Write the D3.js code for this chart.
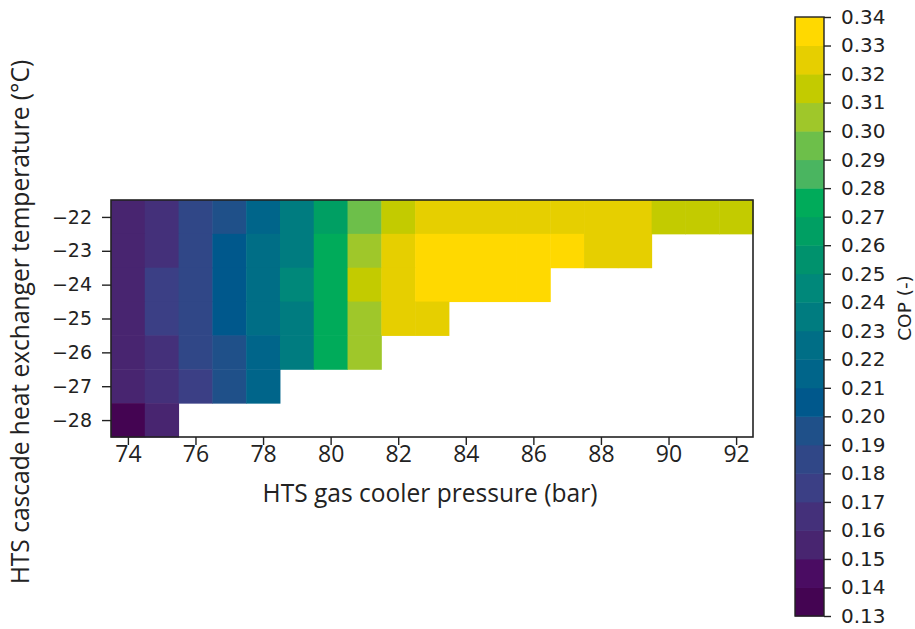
<!DOCTYPE html>
<html><head><meta charset="utf-8">
<script src="https://cdn.jsdelivr.net/npm/d3@7"></script>
<style>body{margin:0;background:#fff;} svg{display:block;}</style>
</head><body>
<svg id="c" width="915" height="629"></svg>
<script>
const pressures = [74,75,76,77,78,79,80,81,82,83,84,85,86,87,88,89,90,91,92];
const temperatures = [-22,-23,-24,-25,-26,-27,-28];
const copRow22 = [0.152,0.165,0.185,0.195,0.212,0.235,0.265,0.295,0.315,0.325,0.326,0.326,0.326,0.325,0.324,0.322,0.318,0.316,0.313];
const copRow23 = [0.152,0.165,0.185,0.205,0.222,0.235,0.275,0.305,0.325,0.333,0.334,0.335,0.334,0.332,0.328,0.325,null,null,null];
const copRow24 = [0.152,0.175,0.185,0.205,0.222,0.245,0.275,0.315,0.325,0.331,0.332,0.332,0.331,null,null,null,null,null,null];
const copRow25 = [0.152,0.175,0.185,0.205,0.222,0.236,0.275,0.305,0.324,0.327,null,null,null,null,null,null,null,null,null];
const copRow26 = [0.152,0.165,0.185,0.195,0.212,0.236,0.275,0.305,null,null,null,null,null,null,null,null,null,null,null];
const copRow27 = [0.152,0.165,0.175,0.195,0.212,null,null,null,null,null,null,null,null,null,null,null,null,null,null];
const copRow28 = [0.137,0.158,null,null,null,null,null,null,null,null,null,null,null,null,null,null,null,null,null];
const copRows = [copRow22,copRow23,copRow24,copRow25,copRow26,copRow27,copRow28];
const xTicks = [74,76,78,80,82,84,86,88,90,92];
const cbarTicks = [0.13,0.14,0.15,0.16,0.17,0.18,0.19,0.20,0.21,0.22,0.23,0.24,0.25,0.26,0.27,0.28,0.29,0.30,0.31,0.32,0.33,0.34];
const palette = ["#440452","#4a0c62","#482570","#44307a","#3b3f85","#304787","#1f5089","#00588c","#00658a","#006e86","#007c80","#00887a","#00926d","#009f63","#00ab5a","#4ab560","#6dbf4a","#9fc72a","#c3cb00","#e6cf00","#ffd900"];

const svg = d3.select("#c");
const L=111, R=753, T=200, B=437;
const x = d3.scaleLinear().domain([73.5,92.5]).range([L,R]);
const y = d3.scaleLinear().domain([-21.5,-28.5]).range([T,B]);
const color = d3.scaleThreshold().domain(cbarTicks.slice(1,-1)).range(palette);

function fitText(sel, target){
  const n = sel.node(); const fs = parseFloat(sel.attr("font-size"));
  const w = n.getComputedTextLength(); if (w>0) sel.attr("font-size", fs*target/w);
}

const cells = [];
copRows.forEach((row,i)=>row.forEach((v,j)=>{ if(v!==null) cells.push({p:pressures[j],t:temperatures[i],v}); }));

svg.append("g").selectAll("rect").data(cells).join("rect")
  .attr("x",d=>x(d.p-0.5)).attr("y",d=>y(d.t+0.5))
  .attr("width",d=>x(d.p+0.5)-x(d.p-0.5)+0.5).attr("height",d=>y(d.t-0.5)-y(d.t+0.5)+0.5)
  .attr("fill",d=>color(d.v));

svg.append("rect").attr("x",L).attr("y",T).attr("width",R-L).attr("height",B-T)
  .attr("fill","none").attr("stroke","#222").attr("stroke-width",1.6);

const font = "DejaVu Sans, sans-serif";
const font2 = "Open Sans, sans-serif";
const xa = svg.append("g").attr("transform",`translate(0,${B})`)
  .call(d3.axisBottom(x).tickValues(xTicks).tickSize(8).tickPadding(1).tickFormat(d3.format("d")));
xa.select(".domain").remove();
xa.selectAll("text").attr("font-family",font2).attr("font-size",23).attr("fill","#222");
xa.selectAll("line").attr("stroke","#222").attr("stroke-width",1.4);

const ya = svg.append("g").attr("transform",`translate(${L},0)`)
  .call(d3.axisLeft(y).tickValues(temperatures).tickSize(9).tickPadding(10).tickFormat(d=>"\u2212"+Math.abs(d)));
ya.select(".domain").remove();
ya.selectAll("text").attr("font-family",font).attr("font-size",19).attr("fill","#222");
ya.selectAll("line").attr("stroke","#222").attr("stroke-width",1.4);

const xt = svg.append("text").attr("x",430).attr("y",502).attr("text-anchor","middle")
  .attr("font-family",font2).attr("font-size",22).attr("fill","#222")
  .text("HTS gas cooler pressure (bar)");
fitText(xt, 335);
const yt = svg.append("text").attr("transform","translate(29,322) rotate(-90)").attr("text-anchor","middle")
  .attr("font-family",font2).attr("font-size",21).attr("fill","#222")
  .text("HTS cascade heat exchanger temperature (\u00b0C)");
fitText(yt, 525);

// colorbar
const CL=795, CR=824, CT=17, CB=616;
const cy = d3.scaleLinear().domain([0.13,0.34]).range([CB,CT]);
const bins = palette.map((c,i)=>({lo:cbarTicks[i],hi:cbarTicks[i+1],c}));
svg.append("g").selectAll("rect").data(bins).join("rect")
  .attr("x",CL).attr("width",CR-CL).attr("y",d=>cy(d.hi)).attr("height",d=>cy(d.lo)-cy(d.hi)+0.5)
  .attr("fill",d=>d.c);
svg.append("rect").attr("x",CL).attr("y",CT).attr("width",CR-CL).attr("height",CB-CT)
  .attr("fill","none").attr("stroke","#222").attr("stroke-width",1.4);
const ca = svg.append("g").attr("transform",`translate(${CR},0)`)
  .call(d3.axisRight(cy).tickValues(cbarTicks).tickSize(7).tickPadding(10).tickFormat(d3.format(".2f")));
ca.select(".domain").remove();
ca.selectAll("text").attr("font-family",font).attr("font-size",20).attr("fill","#222");
ca.selectAll("line").attr("stroke","#222").attr("stroke-width",1.4);
svg.append("text").attr("transform","translate(911,308) rotate(-90)").attr("text-anchor","middle")
  .attr("font-family",font).attr("font-size",18.5).attr("fill","#222").text("COP (-)");
</script>
</body></html>
